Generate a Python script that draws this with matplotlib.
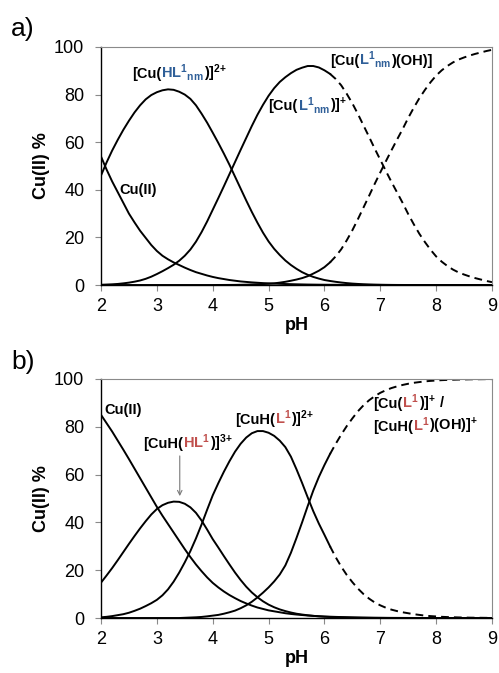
import matplotlib
matplotlib.use('Agg')
import numpy as np
import matplotlib.pyplot as plt
from matplotlib.offsetbox import TextArea, HPacker, VPacker, AnnotationBbox

plt.rcParams['font.family'] = ['Liberation Sans', 'DejaVu Sans']
plt.rcParams['mathtext.fontset'] = 'custom'
plt.rcParams['mathtext.rm'] = 'Liberation Sans:bold'
plt.rcParams['mathtext.it'] = 'Liberation Sans:bold'
plt.rcParams['mathtext.bf'] = 'Liberation Sans:bold'

# pH grid, 2.0 ... 9.0 in 0.1 steps; curves turn dashed from pH 6.1
ph = np.round(np.arange(2.0, 9.01, 0.1), 1)
split = 41

# panel a) species distribution, % of Cu(II)
a_cu = [54, 48.5, 43.5, 39, 34.5, 30, 26.3, 22.8, 19.8, 16.8,
        14.3, 12.3, 10.8, 9.5, 8.4, 7.3, 6.3, 5.4, 4.7, 4.0,
        3.4, 2.9, 2.5, 2.1, 1.8, 1.5, 1.3, 1.1, 0.95, 0.8,
        0.7, 0.6, 0.5, 0.42, 0.36, 0.3, 0.25, 0.2, 0.17, 0.14,
        0.12, 0.1, 0.09, 0.08, 0.07, 0.06, 0.05, 0.04, 0.03, 0.025,
        0.02, 0, 0, 0, 0, 0, 0, 0, 0, 0,
        0, 0, 0, 0, 0, 0, 0, 0, 0, 0,
        0]
a_hl = [46, 51.5, 56.5, 61, 65.2, 69, 72.5, 75.5, 78, 79.8,
        81, 81.8, 82.2, 82, 81.2, 80, 78.2, 75.5, 72, 68.2,
        64, 59.7, 55.2, 50.5, 45.5, 40.5, 35.5, 30.7, 26.2, 22,
        18.3, 15.2, 12.6, 10.3, 8.4, 6.8, 5.4, 4.3, 3.4, 2.7,
        2.1, 1.7, 1.35, 1.05, 0.8, 0.6, 0.45, 0.33, 0.24, 0.17,
        0.12, 0.08, 0.05, 0.03, 0.02, 0.01, 0, 0, 0, 0,
        0, 0, 0, 0, 0, 0, 0, 0, 0, 0,
        0]
a_l = [0.1, 0.2, 0.3, 0.45, 0.7, 1.0, 1.4, 1.9, 2.6, 3.5,
       4.6, 5.8, 7.1, 8.5, 10.2, 12.3, 14.9, 18.2, 22.2, 26.7,
       31.6, 36.5, 41.5, 46.6, 51.7, 56.8, 61.8, 66.8, 71.5, 75.7,
       79.5, 82.7, 85.3, 87.3, 89, 90.4, 91.3, 92, 92, 91.4,
       90.2, 88.7, 86.6, 83.9, 80.3, 76.3, 71.8, 67, 62.2, 57.3,
       52.6, 47.9, 43.3, 38.9, 34.5, 29.8, 25.5, 21.5, 18, 14.8,
       12, 9.8, 8, 6.5, 5.3, 4.4, 3.6, 2.9, 2.3, 1.7,
       1.2]
a_loh = [0, 0, 0, 0, 0, 0, 0, 0, 0, 0,
         0, 0, 0, 0, 0, 0, 0, 0, 0, 0,
         0, 0.02, 0.03, 0.04, 0.06, 0.1, 0.15, 0.22, 0.3, 0.4,
         0.5, 0.7, 1.0, 1.35, 1.8, 2.3, 2.9, 3.7, 4.8, 6.0,
         7.5, 9.5, 12.0, 15.0, 18.8, 23.0, 27.7, 32.6, 37.5, 42.5,
         47.3, 52, 56.6, 61.1, 65.5, 70.2, 74.5, 78.5, 82, 85.2,
         88, 90.2, 92, 93.5, 94.7, 95.6, 96.4, 97.1, 97.7, 98.3,
         98.8]

# panel b) species distribution, % of Cu(II)
b_cu = [85, 81.5, 78, 74.2, 70.4, 66.5, 62.5, 58.5, 54.5, 50.5,
        46.5, 42.8, 39.3, 35.8, 32.3, 28.8, 25.5, 22.4, 19.6, 17,
        14.7, 12.8, 11.1, 9.6, 8.3, 7.1, 6.1, 5.2, 4.4, 3.8,
        3.2, 2.8, 2.4, 2.0, 1.7, 1.45, 1.25, 1.05, 0.9, 0.75,
        0.63, 0.55, 0.47, 0.4, 0.34, 0.28, 0.23, 0.19, 0.15, 0.12,
        0.1, 0.08, 0.06, 0.05, 0.04, 0.03, 0.02, 0.02, 0.01, 0.01,
        0, 0, 0, 0, 0, 0, 0, 0, 0, 0,
        0]
b_hl = [14.8, 17.8, 20.9, 24.2, 27.6, 31, 34.3, 37.5, 40.5, 43.3,
        45.6, 47.2, 48.2, 48.7, 48.6, 47.8, 46.3, 44, 40.8, 37,
        33, 29.5, 25.9, 22.4, 19, 15.9, 13.1, 10.7, 8.7, 7,
        5.6, 4.5, 3.6, 2.9, 2.3, 1.8, 1.45, 1.15, 0.9, 0.7,
        0.55, 0.43, 0.34, 0.26, 0.2, 0.15, 0.11, 0.08, 0.06, 0.04,
        0.03, 0.02, 0.01, 0.01, 0, 0, 0, 0, 0, 0,
        0, 0, 0, 0, 0, 0, 0, 0, 0, 0,
        0]
b_l = [0.3, 0.5, 0.8, 1.2, 1.6, 2.2, 3.0, 3.9, 5.0, 6.2,
       7.6, 9.5, 12, 15.2, 19, 23.3, 28, 33.3, 39.1, 45.3,
       51.3, 56.4, 61.2, 65.6, 69.6, 72.9, 75.5, 77.3, 78.2, 78.2,
       77.5, 76.2, 74.2, 71.5, 67.5, 62.2, 56.5, 50.5, 44.7, 39.5,
       34.8, 30, 25.5, 21.5, 18, 15, 12.3, 10, 8.1, 6.5,
       5.3, 4.3, 3.5, 2.9, 2.4, 2.0, 1.6, 1.3, 1.0, 0.8,
       0.65, 0.5, 0.4, 0.32, 0.25, 0.2, 0.15, 0.12, 0.1, 0.07,
       0.05]
b_m = [0, 0, 0, 0, 0, 0, 0, 0, 0, 0,
       0, 0, 0, 0, 0, 0.1, 0.2, 0.3, 0.45, 0.7,
       1.0, 1.3, 1.8, 2.4, 3.1, 4.1, 5.3, 6.8, 8.6, 10.6,
       12.8, 15.3, 18.2, 22, 27.3, 33.5, 40, 46.8, 53.3, 59,
       64, 68.6, 72.8, 76.7, 80.3, 83.5, 86.5, 89, 91.1, 92.8,
       94.2, 95.3, 96.2, 96.9, 97.5, 98, 98.4, 98.7, 99, 99.2,
       99.35, 99.5, 99.6, 99.68, 99.75, 99.8, 99.85, 99.88, 99.9, 99.93,
       99.95]

BLUE = '#2F5F98'
RED = '#C0504D'
GREY = '#8a8a8a'
LW = 1.4


def rich(ax, x, y, lines, size=10.5):
    """colored multi-part label, lines = [[(text, color), ...], ...]"""
    rows = []
    for parts in lines:
        kids = [TextArea(t, textprops=dict(color=c, fontsize=size,
                                            fontweight='bold'))
                for t, c in parts]
        rows.append(HPacker(children=kids, align='baseline', pad=0, sep=0))
    box = rows[0] if len(rows) == 1 else VPacker(children=rows, align='left',
                                                 pad=0, sep=1)
    ab = AnnotationBbox(box, (x, y), xycoords='data', frameon=False,
                        box_alignment=(0, 0), pad=0, annotation_clip=False)
    ax.add_artist(ab)


def style(ax):
    ax.set_xlim(2, 9)
    ax.set_ylim(0, 100)
    ax.set_xticks(range(2, 10))
    ax.set_yticks(range(0, 101, 20))
    ax.tick_params(direction='out', length=4, width=0.8, color=GREY,
                   labelsize=13, pad=5)
    ax.tick_params(axis='y', pad=8)
    for s in ['top', 'right']:
        ax.spines[s].set_color(GREY)
        ax.spines[s].set_linewidth(0.8)
    for s in ['left', 'bottom']:
        ax.spines[s].set_color('black')
        ax.spines[s].set_linewidth(1.0)
    ax.set_xlabel('pH', fontsize=13, fontweight='bold', labelpad=2)
    ax.set_ylabel('Cu(II) %', fontsize=13, fontweight='bold', labelpad=3)


def split_line(ax, y):
    ax.plot(ph[:split + 1], y[:split + 1], color='black', lw=LW)
    ax.plot(ph[split:], y[split:], color='black', lw=LW, dashes=(4, 2.6))


fig = plt.figure(figsize=(4.99, 6.73), dpi=100)
ax1 = fig.add_axes([0.2024, 0.5765, 0.7836, 0.3537])
ax2 = fig.add_axes([0.2024, 0.0817, 0.7836, 0.3552])

# ---- a)
ax1.plot(ph, a_cu, color='black', lw=LW)
ax1.plot(ph, a_hl, color='black', lw=LW)
split_line(ax1, a_l)
split_line(ax1, a_loh)
style(ax1)

rich(ax1, 2.55, 84.5, [[('[Cu(', 'black'), ('HL$^{1}$$_{nm}$', BLUE),
                        (')]$^{2{+}}$', 'black')]])
rich(ax1, 2.33, 37.0, [[('Cu(II)', 'black')]])
rich(ax1, 5.0, 71.0, [[('[Cu(', 'black'), ('L$^{1}$$_{nm}$', BLUE),
                       (')]$^{{+}}$', 'black')]])
rich(ax1, 6.1, 90.3, [[('[Cu(', 'black'), ('L$^{1}$$_{nm}$', BLUE),
                       (')(OH)]', 'black')]])

# ---- b)
ax2.plot(ph, b_cu, color='black', lw=LW)
ax2.plot(ph, b_hl, color='black', lw=LW)
split_line(ax2, b_l)
split_line(ax2, b_m)
style(ax2)

rich(ax2, 2.06, 84.0, [[('Cu(II)', 'black')]])
rich(ax2, 2.75, 68.8, [[('[CuH(', 'black'), ('HL$^{1}$', RED),
                        (')]$^{3{+}}$', 'black')]])
rich(ax2, 4.40, 78.6, [[('[CuH(', 'black'), ('L$^{1}$', RED),
                        (')]$^{2{+}}$', 'black')]])
rich(ax2, 6.87, 76.0, [[('[Cu(', 'black'), ('L$^{1}$', RED),
                        (')]$^{{+}}$ /', 'black')],
                       [('[CuH(', 'black'), ('L$^{1}$', RED),
                        (')(OH)]$^{{+}}$', 'black')]])
ax2.annotate('', xy=(3.41, 51.0), xytext=(3.41, 67.8),
             arrowprops=dict(arrowstyle='->', color='#7a7a7a', lw=0.8,
                             shrinkA=0, shrinkB=0, mutation_scale=8))

fig.text(0.022, 0.9465, 'a)', fontsize=19)
fig.text(0.022, 0.4517, 'b)', fontsize=19)

fig.savefig('out.png', dpi=100)
